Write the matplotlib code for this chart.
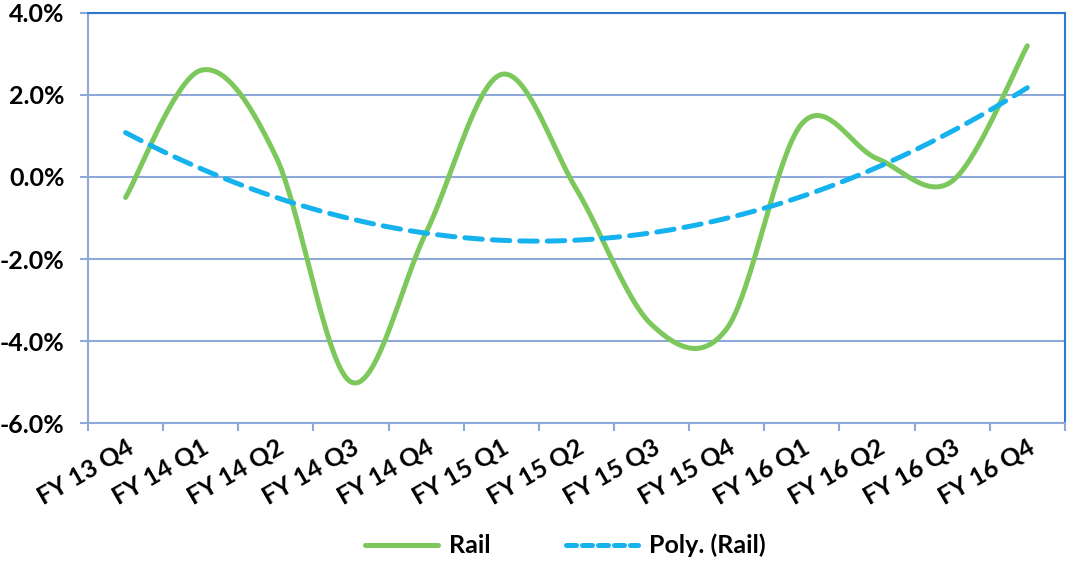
import numpy as np
import matplotlib.pyplot as plt
from matplotlib.lines import Line2D

quarters = ["FY 13 Q4", "FY 14 Q1", "FY 14 Q2", "FY 14 Q3", "FY 14 Q4", "FY 15 Q1",
            "FY 15 Q2", "FY 15 Q3", "FY 15 Q4", "FY 16 Q1", "FY 16 Q2", "FY 16 Q3",
            "FY 16 Q4"]
rail = [-0.5, 2.6, 0.5, -5.0, -1.35, 2.5, -0.3, -3.6, -3.7, 1.3, 0.45, -0.1, 3.2]

y_ticks = [-6, -4, -2, 0, 2, 4]

GREEN = "#7CC85C"
BLUE = "#16B2EE"
GRID = "#8EA8DA"
BORDER = "#2F78D0"

plt.rcParams["font.family"] = ["Lato", "DejaVu Sans"]
plt.rcParams["font.weight"] = "bold"


def catmull_rom(x, y, n=40):
    # smoothed line like Excel's "smoothed line" option
    x = np.asarray(x, float)
    y = np.asarray(y, float)
    px = np.concatenate([[x[0]], x, [x[-1]]])
    py = np.concatenate([[y[0]], y, [y[-1]]])
    xs, ys = [], []
    t = np.linspace(0, 1, n)
    for i in range(1, len(px) - 2):
        p0, p1, p2, p3 = px[i - 1], px[i], px[i + 1], px[i + 2]
        q0, q1, q2, q3 = py[i - 1], py[i], py[i + 1], py[i + 2]
        c1x, c1y = p1 + (p2 - p0) / 6, q1 + (q2 - q0) / 6
        c2x, c2y = p2 - (p3 - p1) / 6, q2 - (q3 - q1) / 6
        bx = (1 - t) ** 3 * p1 + 3 * (1 - t) ** 2 * t * c1x + 3 * (1 - t) * t ** 2 * c2x + t ** 3 * p2
        by = (1 - t) ** 3 * q1 + 3 * (1 - t) ** 2 * t * c1y + 3 * (1 - t) * t ** 2 * c2y + t ** 3 * q2
        xs.append(bx)
        ys.append(by)
    return np.concatenate(xs), np.concatenate(ys)


x = np.arange(len(quarters))
sx, sy = catmull_rom(x, rail)

# polynomial (order 2) trendline of the rail series
coef = np.polyfit(x, rail, 2)
tx = np.linspace(x[0], x[-1], 200)
ty = np.polyval(coef, tx)

fig = plt.figure(figsize=(10.67, 5.62), dpi=100)
ax = fig.add_axes([0.0825, 0.2473, 0.9155, 0.7296])

for v in y_ticks:
    ax.axhline(v, color=GRID, lw=1.5, zorder=1)

ax.plot(sx, sy, color=GREEN, lw=3.6, solid_capstyle="round", zorder=3)
ax.plot(tx, ty, color=BLUE, lw=3.6, dashes=(3.5, 2.0), dash_capstyle="round", zorder=4)

ax.set_xlim(-0.5, len(quarters) - 0.5)
ax.set_ylim(-6, 4)
ax.set_yticks(y_ticks)
ax.set_yticklabels([f"{v:.1f}%" for v in y_ticks], fontsize=18, fontweight="bold")

ax.set_xticks(x)
ax.set_xticklabels(quarters, rotation=30, ha="right", rotation_mode="anchor",
                   fontsize=18, fontweight="bold")
ax.set_xticks(np.arange(len(quarters) + 1) - 0.5, minor=True)
ax.tick_params(axis="x", which="major", length=0, pad=9)
ax.tick_params(axis="x", which="minor", length=6, width=1.5, color=GRID)
ax.tick_params(axis="y", length=6, width=1.5, color=GRID, pad=11)

for side in ["left", "bottom"]:
    ax.spines[side].set_color(GRID)
    ax.spines[side].set_linewidth(1.5)
for side in ["top", "right"]:
    ax.spines[side].set_color(BORDER)
    ax.spines[side].set_linewidth(1.5)

handles = [Line2D([], [], color=GREEN, lw=3.6, solid_capstyle="round"),
           Line2D([], [], color=BLUE, lw=3.6, dashes=(2.0, 1.2), dash_capstyle="round")]
fig.legend(handles, ["Rail", "Poly. (Rail)"], loc="lower center",
           bbox_to_anchor=(0.53, -0.032), ncol=2, frameon=False,
           prop={"size": 18, "weight": "bold"}, handlelength=2.9, columnspacing=3.0,
           handletextpad=0.45)

fig.savefig("out.png", dpi=100)
